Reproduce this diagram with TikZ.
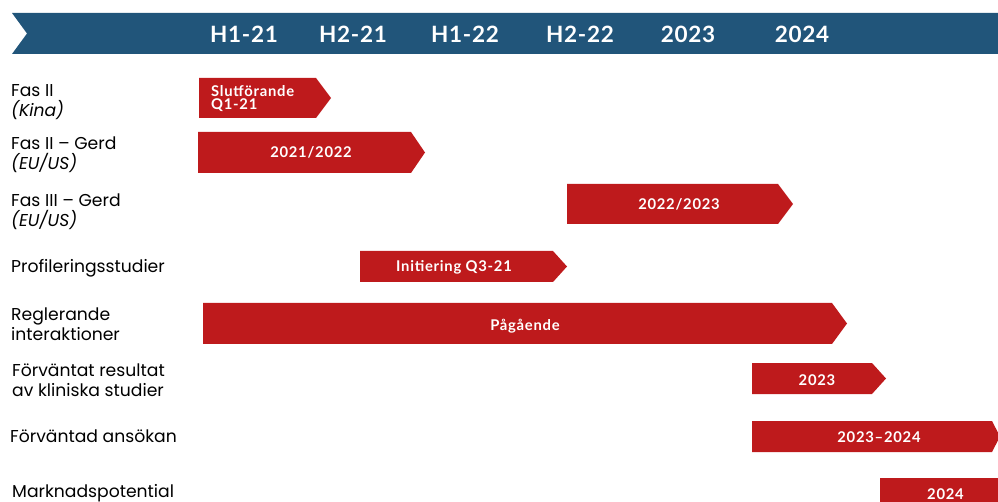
\documentclass[tikz,border=0pt]{standalone}
\usepackage{fontspec}
\setmainfont{Lato}
\newfontfamily\rowfont{Poppins}
\definecolor{headblue}{HTML}{21557A}
\definecolor{barred}{HTML}{BE1A1C}
\tikzset{head/.style={fill=headblue},
  headlbl/.style={text=white,font=\fontsize{22.5}{24}\selectfont\bfseries\addfontfeatures{LetterSpace=3},anchor=base,inner sep=0pt},
  rowlbl/.style={font=\rowfont\fontsize{17.2}{20.3}\selectfont,align=left,anchor=base west,inner sep=0pt},
  barlbl/.style={text=white,font=\fontsize{14.8}{13.3}\selectfont\bfseries\addfontfeatures{LetterSpace=5},anchor=base,inner sep=0pt},
  gbar/.style={fill=barred}}
% bar: x start, x end, y top, y bottom, x of tip
\newcommand{\gantt}[5]{\fill[gbar] (#1,#3)--(#2,#3)--(#5,{(#3+#4)/2})--(#2,#4)--(#1,#4)--cycle;}

\begin{document}
\begin{tikzpicture}[x=1pt,y=-1pt]
\useasboundingbox (0,0) rectangle (998,502);
\clip (0,0) rectangle (998,502);
% time axis
\fill[head] (12,13)--(1004,13)--(1004,54)--(12,54)--(27,33.5)--cycle;
\foreach \x/\t/\n in {244/H1-21/ha21,353/H2-21/hb21,465/H1-22/ha22,580/H2-22/hb22,688/2023/y23,802/2024/y24}
  \node[headlbl] (\n) at (\x,42.3) {\t};

% rows (base = last line)
\node[rowlbl] (fas2) at (11,117) {Fas II\\\textit{(Kina)}};
\node[rowlbl] (gerd2) at (11,170) {Fas II – Gerd\\\textit{(EU/US)}};
\node[rowlbl] (gerd3) at (11,227) {Fas III – Gerd\\\textit{(EU/US)}};
\node[rowlbl] (prof) at (11,272.7) {Profileringsstudier};
\node[rowlbl] (regl) at (11,340.7) {Reglerande\\interaktioner};
\node[rowlbl] (resultat) at (12,396.7) {Förväntat resultat\\av kliniska studier};
\node[rowlbl] (ansokan) at (10,442.7) {Förväntad ansökan};
\node[rowlbl] (marknad) at (12,497) {Marknadspotential};

% bars
\gantt{199}{316}{78}{118}{331}
\node[barlbl,align=left,anchor=base west] (slut) at (211,110) {Slutförande\\Q1-21};
\gantt{198}{411}{132}{173}{425}
\node[barlbl] (g2tid) at (311,157.3) {2021/2022};
\gantt{567}{778}{184}{224}{793}
\node[barlbl] (g3tid) at (679,209.5) {2022/2023};
\gantt{360}{553}{251}{282}{567}
\node[barlbl] (init) at (454,271.7) {Initiering Q3-21};
\gantt{203}{832}{303}{344}{847}
\node[barlbl] (pag) at (525,330.7) {Pågående};
\gantt{752}{872}{363}{394}{886}
\node[barlbl] (restid) at (817,385) {2023};
\gantt{752}{992}{421}{452}{1000}
\node[barlbl] (anstid) at (879,442.3) {2023–2024};
\gantt{880}{1010}{478}{520}{1025}
\node[barlbl] (marktid) at (945.5,499) {2024};
\end{tikzpicture}
\end{document}
